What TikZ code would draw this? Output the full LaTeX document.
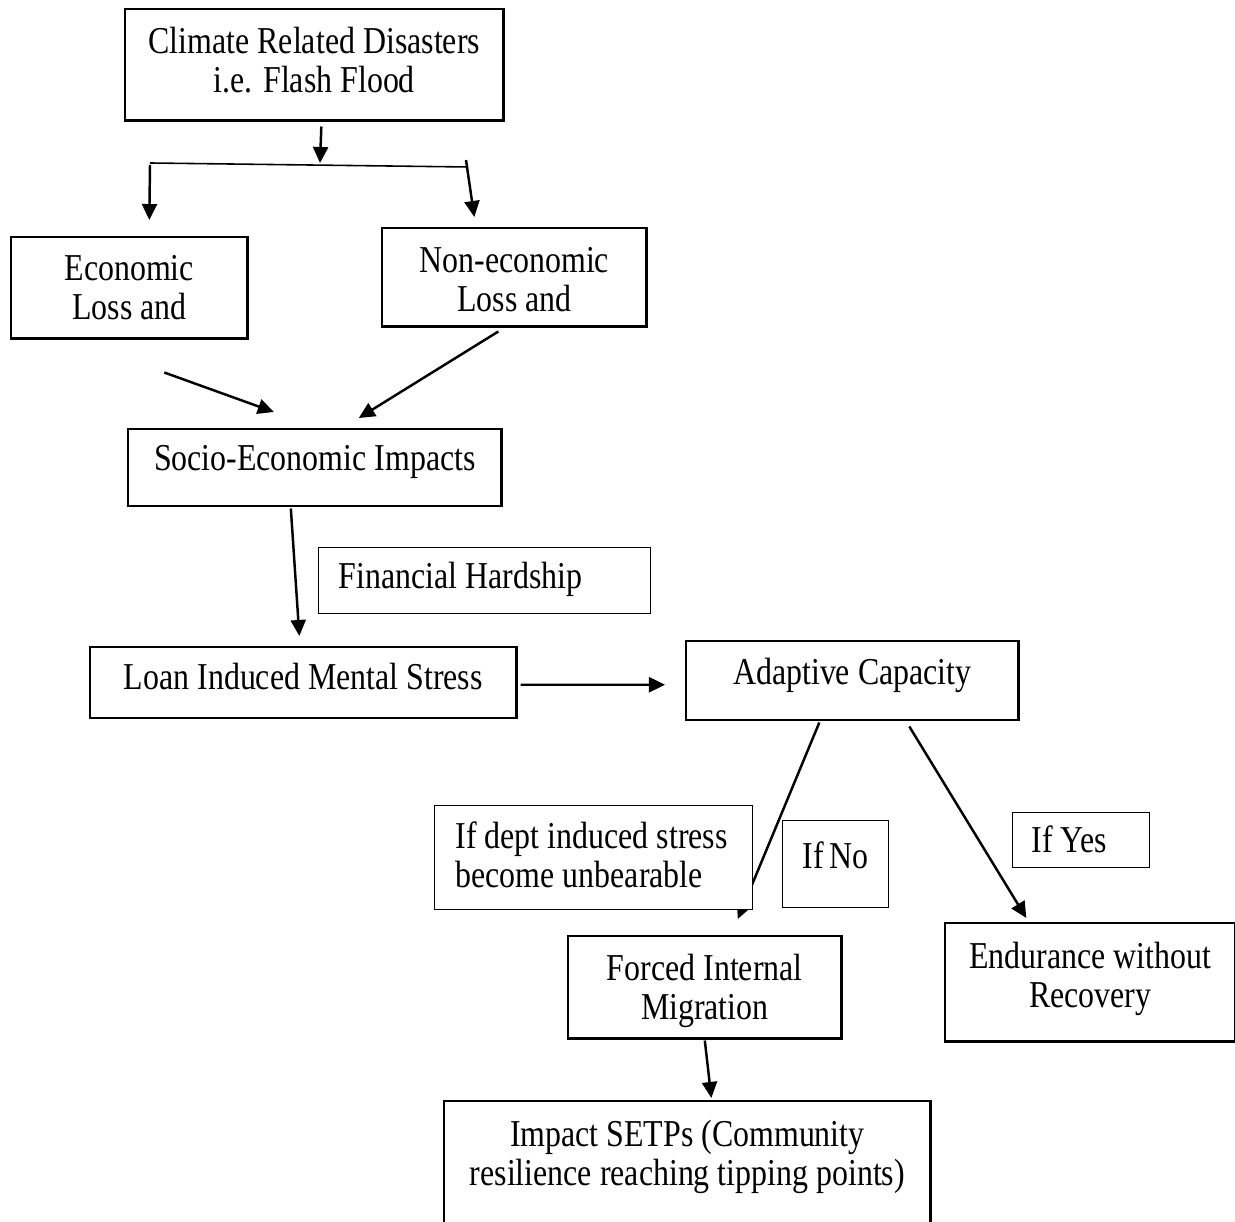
\documentclass[tikz,border=0pt]{standalone}
\usepackage{fontspec}
\setmainfont{Liberation Serif}[FakeStretch=0.84]
\usetikzlibrary{arrows.meta, calc}
\newcommand{\boxfont}{\fontsize{10.8pt}{11.1pt}\selectfont}

\begin{document}
\begin{tikzpicture}[x=0.01cm, y=-0.01cm,
    stage/.style={draw, line width=0.7pt, inner sep=0pt, anchor=north west, align=flush center, font=\boxfont},
    note/.style={draw, line width=0.35pt, fill=white, inner xsep=2mm, inner ysep=0pt, anchor=north west, align=flush left, font=\boxfont},
    arrow/.style={-{Triangle[length=1.6mm, width=1.5mm]}, line width=0.7pt}
]
\useasboundingbox (0,0) rectangle (1235,1222);

% Main stages
\node[stage, text width=37.8mm, text height=4.4mm, text depth=6.7mm] (climate) at (124,8) {Climate Related Disasters\\i.e. Flash Flood};
\node[stage, text width=23.6mm, text height=4.3mm, text depth=5.8mm] (econ) at (10,236) {Economic\\Loss and};
\node[stage, text width=26.4mm, text height=4.4mm, text depth=5.4mm] (nonecon) at (381,227) {Non-economic\\Loss and};
\node[stage, text width=37.3mm, text height=4.1mm, text depth=3.6mm] (socio) at (127,428) {Socio-Economic Impacts};
\node[stage, text width=42.6mm, text height=4.2mm, text depth=2.9mm] (loan) at (89,646) {Loan Induced Mental Stress};
\node[stage, text width=33.2mm, text height=4.3mm, text depth=3.6mm] (adaptive) at (685,640) {Adaptive Capacity};
\node[stage, text width=27.3mm, text height=4.4mm, text depth=5.8mm] (migration) at (567,935) {Forced Internal\\Migration};
\node[stage, text width=29.0mm, text height=4.5mm, text depth=7.3mm] (endurance) at (944,922) {Endurance without\\Recovery};
\node[stage, text width=48.6mm, text height=4.5mm, text depth=8.5mm] (setps) at (443,1100) {Impact SETPs (Community\\resilience reaching tipping points)};

% Split below the first box
\coordinate (splitL) at (150,163);
\coordinate (splitR) at (468,167);
\coordinate (splitM) at (320,163);
\draw[arrow] ($(climate.south)+(7,5)$) -- (splitM);
\draw[line width=0.45pt] (splitL) -- (splitR);
\draw[arrow] ($(splitL)+(0,2)$) -- ($(econ.north)+(20,-16)$);
\draw[arrow] ($(splitR)+(-2,-7)$) -- ($(nonecon.north)+(-40,-10)$);

% Arrows
\draw[arrow] ($(econ.south)+(35,33)$) -- ($(socio.north)+(-41,-16)$);
\draw[arrow] ($(nonecon.south)+(-16,4)$) -- ($(socio.north)+(44,-10)$);
\draw[arrow] ($(socio.south)+(-24,1)$) -- ($(loan.north)+(-4,-10)$);
\draw[arrow] ($(loan.east)+(3,2)$) -- ($(adaptive.west)+(-20,4)$);
\draw[arrow] ($(adaptive.south)+(-33,1)$) -- ($(migration.north)+(33,-16)$);
\draw[arrow] ($(adaptive.south)+(57,5)$) -- ($(endurance.north)+(-64,-4)$);
\draw[arrow] ($(migration.south)+(0,1)$) -- ($(setps.north)+(24,-2)$);

% Side notes
\node[note, text width=29.2mm, text height=4.1mm, text depth=2.5mm] (hardship) at (318,547) {Financial Hardship};
\node[note, text width=27.6mm, text height=4.3mm, text depth=6.1mm, inner xsep=2.1mm] (unbearable) at (434,805) {If~dept~induced~stress\\become~unbearable};
\node[note, text width=6.6mm, text height=4.8mm, text depth=3.9mm] (ifno) at (782,820) {If~No};
\node[note, text width=9.9mm, text height=4.0mm, text depth=1.5mm, inner xsep=1.9mm] (ifyes) at (1012,812) {If~Yes};

\end{tikzpicture}
\end{document}
